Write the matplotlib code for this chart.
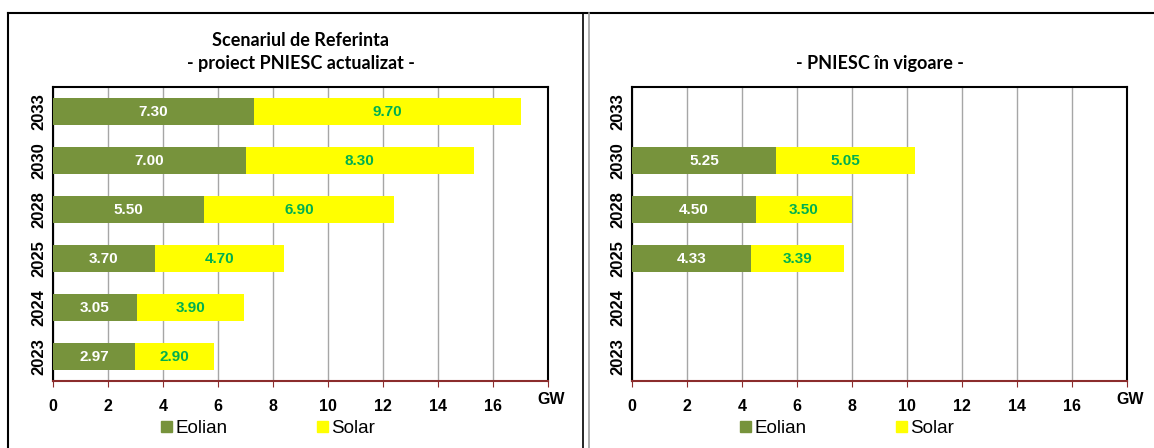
import numpy as np
from matplotlib import pyplot as plt
from matplotlib.lines import Line2D
from matplotlib.patches import Patch

years = ['2023', '2024', '2025', '2028', '2030', '2033']

# Scenariul de Referinta - proiect PNIESC actualizat
ref_eolian = [2.97, 3.05, 3.70, 5.50, 7.00, 7.30]
ref_solar = [2.90, 3.90, 4.70, 6.90, 8.30, 9.70]

# PNIESC in vigoare (no values for 2023, 2024, 2033)
cur_eolian = [np.nan, np.nan, 4.33, 4.50, 5.25, np.nan]
cur_solar = [np.nan, np.nan, 3.39, 3.50, 5.05, np.nan]

xticks = [0, 2, 4, 6, 8, 10, 12, 14, 16]

GREEN = '#77933C'
YELLOW = '#FFFF00'
LABEL_GREEN = '#00B050'
AXIS_RED = '#8B2C2C'

plt.rcParams['font.family'] = ['Liberation Sans', 'DejaVu Sans']


def draw_panel(ax, eolian, solar, title):
    y = np.arange(len(years))
    eol = np.array(eolian, dtype=float)
    sol = np.array(solar, dtype=float)
    ax.barh(y, eol, height=0.57, color=GREEN, zorder=3)
    ax.barh(y, sol, left=eol, height=0.57, color=YELLOW, zorder=3)
    for yi, e, s in zip(y, eol, sol):
        if np.isnan(e):
            continue
        ax.text(e / 2, yi, f'{e:.2f}', ha='center', va='center',
                color='white', fontweight='bold', fontsize=11, zorder=4)
        ax.text(e + s / 2, yi, f'{s:.2f}', ha='center', va='center',
                color=LABEL_GREEN, fontweight='bold', fontsize=11, zorder=4)

    ax.set_xlim(0, 18)
    ax.set_ylim(-0.5, len(years) - 0.5)
    ax.set_xticks(list(range(0, 19, 2)))
    ax.set_xticklabels([str(t) for t in xticks] + [''])
    ax.set_yticks(y)
    ax.set_yticklabels(years, rotation=90, va='center', fontweight='bold', fontsize=12)
    for lbl in ax.get_xticklabels():
        lbl.set_fontweight('bold')
        lbl.set_fontsize(11.5)
    ax.tick_params(axis='y', length=0, pad=5)
    ax.tick_params(axis='x', length=4, color=AXIS_RED, pad=9)
    ax.grid(axis='x', color='#A6A6A6', linewidth=1, zorder=0)
    for side in ['left', 'top', 'right']:
        ax.spines[side].set_color('black')
        ax.spines[side].set_linewidth(1.5)
    ax.spines['bottom'].set_color(AXIS_RED)
    ax.spines['bottom'].set_linewidth(1.5)
    ax.annotate('GW', xy=(18, -0.5), xytext=(2, -8), textcoords='offset points',
                ha='center', va='top', fontweight='bold', fontsize=11.5,
                annotation_clip=False)
    ax.set_title(title, fontsize=13, fontweight='bold', family=['Lato', 'DejaVu Sans'],
                 linespacing=1.45, pad=13)
    handles = [Patch(color=GREEN, label='Eolian'), Patch(color=YELLOW, label='Solar')]
    ax.legend(handles=handles, loc='upper center', bbox_to_anchor=(0.435, -0.075), ncol=2,
              frameon=False, handlelength=0.55, handleheight=0.55, handletextpad=0.2,
              columnspacing=4.8, fontsize=13.5)


def main():
    fig = plt.figure(figsize=(11.54, 4.48), dpi=100)
    ax1 = fig.add_axes([53 / 1154, 1 - 381 / 448, 495 / 1154, 294 / 448])
    ax2 = fig.add_axes([632 / 1154, 1 - 381 / 448, 495 / 1154, 294 / 448])
    draw_panel(ax1, ref_eolian, ref_solar,
               'Scenariul de Referinta\n- proiect PNIESC actualizat -')
    draw_panel(ax2, cur_eolian, cur_solar, '- PNIESC în vigoare -')

    # panel frames
    top = 1 - 13 / 448
    fig.add_artist(Line2D([8 / 1154, 1], [top, top], color='black', linewidth=1.5))
    fig.add_artist(Line2D([8 / 1154, 8 / 1154], [0, top], color='black', linewidth=1.5))
    fig.add_artist(Line2D([583 / 1154, 583 / 1154], [0, top], color='black', linewidth=1.2))
    fig.add_artist(Line2D([589 / 1154, 589 / 1154], [0, top], color='#A0A0A0', linewidth=1.2))

    fig.savefig('out.png', dpi=100)


if __name__ == '__main__':
    main()
